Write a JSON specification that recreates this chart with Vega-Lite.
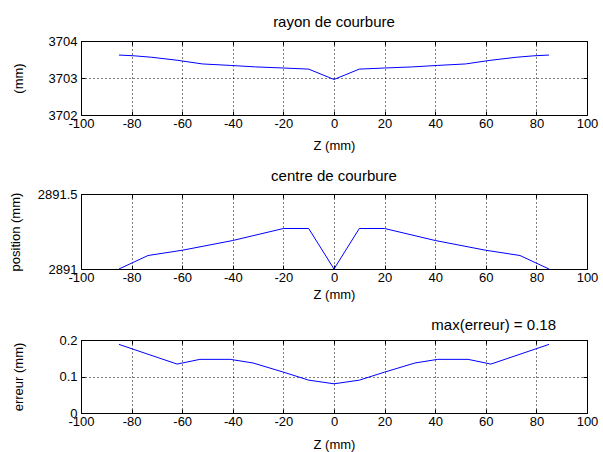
{
  "$schema": "https://vega.github.io/schema/vega-lite/v6.json",
  "padding": {"left": 8, "top": 14, "right": 14, "bottom": 0},
  "spacing": 15,
  "datasets": {
    "rayon": [
      {"z": -85, "v": 3703.62}, {"z": -79, "v": 3703.60}, {"z": -72, "v": 3703.56}, {"z": -62, "v": 3703.48},
      {"z": -52, "v": 3703.38}, {"z": -41, "v": 3703.34}, {"z": -31, "v": 3703.30}, {"z": -20, "v": 3703.27},
      {"z": -10, "v": 3703.24}, {"z": 0, "v": 3702.96}, {"z": 10, "v": 3703.24}, {"z": 20, "v": 3703.27},
      {"z": 31, "v": 3703.30}, {"z": 41, "v": 3703.34}, {"z": 52, "v": 3703.38}, {"z": 62, "v": 3703.48},
      {"z": 72, "v": 3703.56}, {"z": 79, "v": 3703.60}, {"z": 85, "v": 3703.62}
    ],
    "centre": [
      {"z": -85, "v": 2891.0}, {"z": -73.5, "v": 2891.09}, {"z": -60, "v": 2891.125}, {"z": -40, "v": 2891.19},
      {"z": -20, "v": 2891.27}, {"z": -10, "v": 2891.27}, {"z": 0, "v": 2891.0}, {"z": 10, "v": 2891.27},
      {"z": 20, "v": 2891.27}, {"z": 40, "v": 2891.19}, {"z": 60, "v": 2891.125}, {"z": 73.5, "v": 2891.09},
      {"z": 85, "v": 2891.0}
    ],
    "erreur": [
      {"z": -85, "v": 0.188}, {"z": -62, "v": 0.134}, {"z": -53, "v": 0.147}, {"z": -41, "v": 0.147},
      {"z": -32, "v": 0.137}, {"z": -20, "v": 0.112}, {"z": -10, "v": 0.09}, {"z": 0, "v": 0.08},
      {"z": 10, "v": 0.09}, {"z": 20, "v": 0.112}, {"z": 32, "v": 0.137}, {"z": 41, "v": 0.147},
      {"z": 53, "v": 0.147}, {"z": 62, "v": 0.134}, {"z": 85, "v": 0.188}
    ]
  },
  "config": {
    "font": "Liberation Sans",
    "view": {"stroke": "#000000", "strokeWidth": 1},
    "title": {"font": "Liberation Sans", "fontSize": 15, "fontWeight": "normal", "color": "#000000"},
    "axis": {
      "domain": false,
      "tickColor": "#000000",
      "tickSize": -4,
      "labelFont": "Liberation Sans",
      "labelFontSize": 13,
      "labelColor": "#000000",
      "labelFlush": false,
      "labelOverlap": false,
      "titleFont": "Liberation Sans",
      "titleFontSize": 13,
      "titleFontWeight": "normal",
      "titleColor": "#000000",
      "gridColor": "#000000",
      "gridDash": [1, 3],
      "gridOpacity": 1,
      "gridWidth": 1
    }
  },
  "vconcat": [
    {
      "width": 506, "height": 74,
      "data": {"name": "rayon"},
      "title": {"text": "rayon de courbure", "offset": 5},
      "layer": [
        {
          "mark": {"type": "line", "color": "#0000ff", "strokeWidth": 1},
          "encoding": {
            "x": {"field": "z", "type": "quantitative", "scale": {"domain": [-100, 100], "nice": false},
                  "axis": {"orient": "bottom", "title": "Z (mm)", "values": [-100, -80, -60, -40, -20, 0, 20, 40, 60, 80, 100], "labelExpr": "datum.value", "labelPadding": 6, "titlePadding": 9, "grid": true}},
            "y": {"field": "v", "type": "quantitative", "scale": {"domain": [3702, 3704], "nice": false, "zero": false},
                  "axis": {"orient": "left", "title": "(mm)", "values": [3702, 3703, 3704], "labelExpr": "datum.value", "labelPadding": 8, "grid": true, "titleX": -56}}
          }
        },
        {
          "mark": {"type": "line", "opacity": 0},
          "encoding": {
            "x": {"field": "z", "type": "quantitative", "axis": {"orient": "top", "labels": false, "title": null, "grid": false, "values": [-100, -80, -60, -40, -20, 0, 20, 40, 60, 80, 100]}},
            "y": {"field": "v", "type": "quantitative", "axis": {"orient": "right", "labels": false, "title": null, "grid": false, "values": [3702, 3703, 3704]}}
          }
        }
      ],
      "resolve": {"axis": {"x": "independent", "y": "independent"}}
    },
    {
      "width": 506, "height": 75,
      "data": {"name": "centre"},
      "title": {"text": "centre de courbure", "offset": 4},
      "layer": [
        {
          "mark": {"type": "line", "color": "#0000ff", "strokeWidth": 1},
          "encoding": {
            "x": {"field": "z", "type": "quantitative", "scale": {"domain": [-100, 100], "nice": false},
                  "axis": {"orient": "bottom", "title": "Z (mm)", "values": [-100, -80, -60, -40, -20, 0, 20, 40, 60, 80, 100], "labelExpr": "datum.value", "labelPadding": 6, "titlePadding": 4, "grid": true}},
            "y": {"field": "v", "type": "quantitative", "scale": {"domain": [2891, 2891.5], "nice": false, "zero": false},
                  "axis": {"orient": "left", "title": "position (mm)", "values": [2891, 2891.5], "labelExpr": "datum.value", "labelPadding": 8, "grid": true, "titleX": -59}}
          }
        },
        {
          "mark": {"type": "line", "opacity": 0},
          "encoding": {
            "x": {"field": "z", "type": "quantitative", "axis": {"orient": "top", "labels": false, "title": null, "grid": false, "values": [-100, -80, -60, -40, -20, 0, 20, 40, 60, 80, 100]}},
            "y": {"field": "v", "type": "quantitative", "axis": {"orient": "right", "labels": false, "title": null, "grid": false, "values": [2891, 2891.5]}}
          }
        }
      ],
      "resolve": {"axis": {"x": "independent", "y": "independent"}}
    },
    {
      "width": 506, "height": 73,
      "data": {"name": "erreur"},
      "title": {"text": "max(erreur) = 0.18", "anchor": "end", "frame": "group", "dx": -31, "offset": 1},
      "layer": [
        {
          "mark": {"type": "line", "color": "#0000ff", "strokeWidth": 1},
          "encoding": {
            "x": {"field": "z", "type": "quantitative", "scale": {"domain": [-100, 100], "nice": false},
                  "axis": {"orient": "bottom", "title": "Z (mm)", "values": [-100, -80, -60, -40, -20, 0, 20, 40, 60, 80, 100], "labelExpr": "datum.value", "labelPadding": 6, "titlePadding": 10, "grid": true}},
            "y": {"field": "v", "type": "quantitative", "scale": {"domain": [0, 0.2], "nice": false, "zero": false},
                  "axis": {"orient": "left", "title": "erreur (mm)", "values": [0, 0.1, 0.2], "labelExpr": "datum.value", "labelPadding": 8, "grid": true, "titleX": -56}}
          }
        },
        {
          "mark": {"type": "line", "opacity": 0},
          "encoding": {
            "x": {"field": "z", "type": "quantitative", "axis": {"orient": "top", "labels": false, "title": null, "grid": false, "values": [-100, -80, -60, -40, -20, 0, 20, 40, 60, 80, 100]}},
            "y": {"field": "v", "type": "quantitative", "axis": {"orient": "right", "labels": false, "title": null, "grid": false, "values": [0, 0.1, 0.2]}}
          }
        }
      ],
      "resolve": {"axis": {"x": "independent", "y": "independent"}}
    }
  ]
}
